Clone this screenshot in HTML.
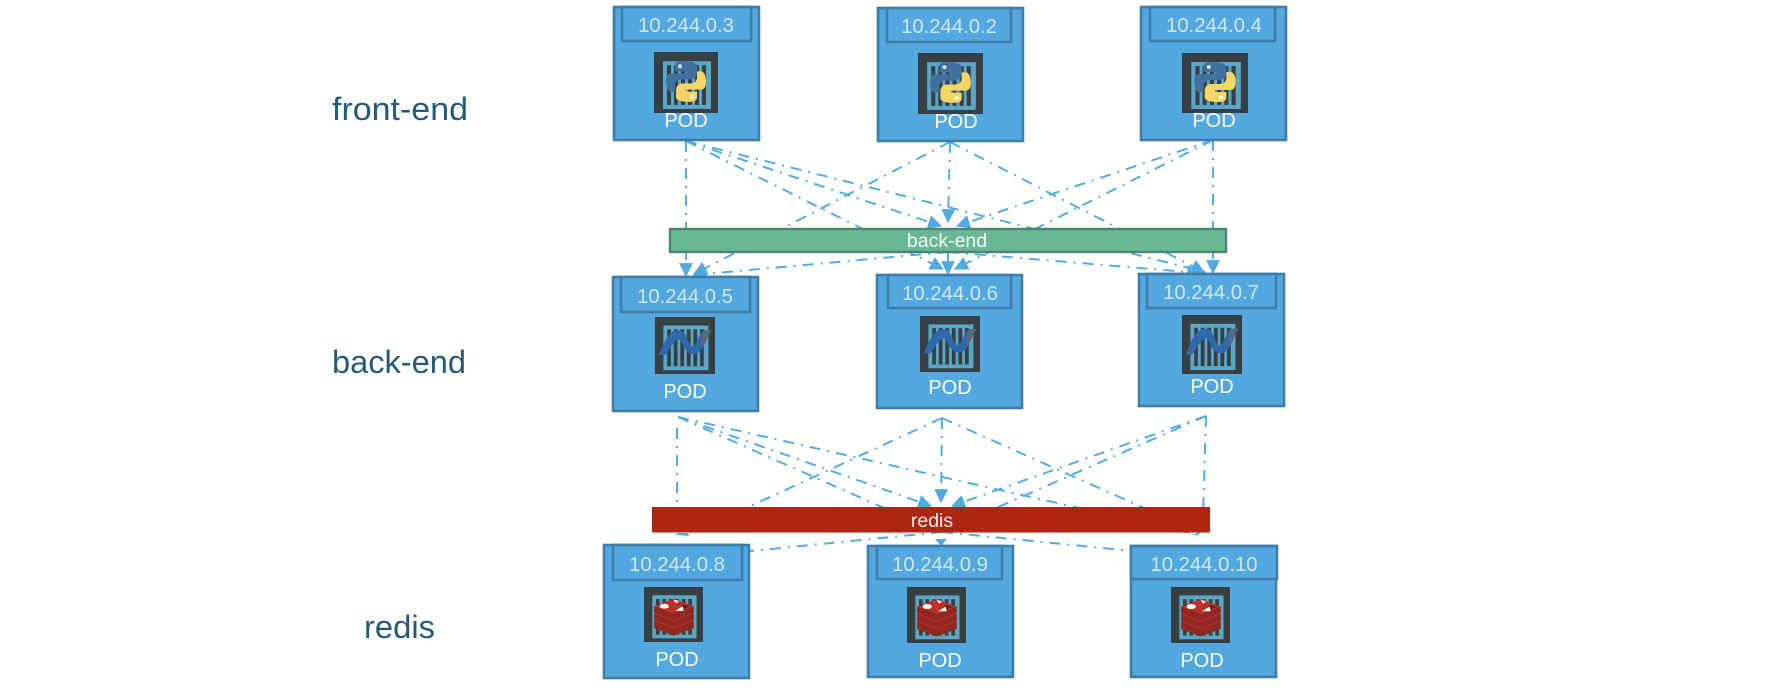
<!DOCTYPE html>
<html><head><meta charset="utf-8"><title>Pods</title>
<style>
html,body{margin:0;padding:0;background:#fff;width:1774px;height:694px;overflow:hidden}
svg{display:block}
text{font-family:"Liberation Sans",sans-serif}
.lbl{font-size:32px;fill:#255a7a}
.ip{font-size:20.3px;fill:#cfe7f6;text-anchor:middle}
.pod{font-size:20px;fill:#fff;text-anchor:middle}
.svc{font-size:19.5px;fill:#f4f9f6;text-anchor:middle}
.p{fill:#53a8e0;stroke:#3f7ea8;stroke-width:2.6}
.i{fill:#53a8e0;stroke:#3f7ea8;stroke-width:2.6}
.l{stroke:#55ace3;stroke-width:2;fill:none;stroke-dasharray:11 7 2 7}
</style></head><body>
<svg width="1774" height="694" viewBox="0 0 1774 694" xmlns="http://www.w3.org/2000/svg">
<defs>
<marker id="a" viewBox="0 0 12 12" refX="11" refY="6" markerWidth="14" markerHeight="14" markerUnits="userSpaceOnUse" orient="auto"><path d="M0 0L12 6L0 12Z" fill="#53a9e1"/></marker>
<g id="box">
<rect width="64" height="60" fill="#363f44"/>
<rect x="9" y="9" width="48" height="47" fill="#5aa6c4"/>
<g fill="#363f44"><rect x="13" y="13" width="4" height="39"/><rect x="20" y="13" width="4" height="39"/><rect x="27" y="13" width="4" height="39"/><rect x="34" y="13" width="4" height="39"/><rect x="41" y="13" width="4" height="39"/><rect x="48" y="13" width="4" height="39"/></g>
</g>
<symbol id="py" viewBox="0 0 64 60" preserveAspectRatio="none">
<use href="#box"/>
<path d="M29 9C22 9 21 11 21 14V19H32V21H17C13 21 12 25 12 29C12 35 14 39 17 39H21V33C21 29 24 27 27 27H36C39 27 43 24 43 21V14C43 11 38 9 29 9Z" fill="#41719f"/>
<path d="M35 49C42 49 43 47 43 44V39H32V37H47C51 37 52 33 52 29C52 23 50 19 47 19H43V25C43 29 40 31 37 31H28C25 31 22 34 22 37V44C22 47 26 49 35 49Z" fill="#f4d666"/>
<circle cx="26" cy="14" r="1.8" fill="#fff"/><circle cx="38" cy="44" r="1.8" fill="#fff"/>
</symbol>
<symbol id="net" viewBox="0 0 64 60" preserveAspectRatio="none">
<use href="#box"/>
<path d="M4 40C10 26 15 14 25 14C32 14 34 22 36 27C38 31 40 32 42 30C45 27 47 18 52 14L60 14C55 22 51 39 42 39C34 39 31 32 29 28C27 24 26 23 24 24C19 27 15 35 11 40Z" fill="#2f69ac"/>
<path d="M52 14L60 14C56 20 53 28 50 32C49 26 50 20 52 14Z" fill="#5b6a78"/>
</symbol>
<symbol id="rd" viewBox="0 0 64 60" preserveAspectRatio="none">
<use href="#box"/>
<path d="M11 37V45L32 53L54 45V37Z" fill="#8f2820"/>
<path d="M11 37L32 45L54 37L32 29Z" fill="#b8322a"/>
<path d="M11 29V36L32 44L54 36V29Z" fill="#8f2820"/>
<path d="M11 29L32 37L54 29L32 21Z" fill="#b8322a"/>
<path d="M11 21V28L32 36L54 28V21Z" fill="#8f2820"/>
<path d="M11 21L32 29L54 21L32 13Z" fill="#b8322a"/>
<ellipse cx="22" cy="21" rx="5" ry="2.6" fill="#fff"/><path d="M34 26L43 26L42 21Z" fill="#fff"/><path d="M32 14L38 15L35 18Z" fill="#fff"/><path d="M41 19L50 21L43 24Z" fill="#6d1e19"/>
</symbol>
</defs>

<text class="lbl" x="332" y="120" textLength="136" lengthAdjust="spacingAndGlyphs">front-end</text>
<text class="lbl" x="332" y="373" textLength="134" lengthAdjust="spacingAndGlyphs">back-end</text>
<text class="lbl" x="364" y="638" textLength="71" lengthAdjust="spacingAndGlyphs">redis</text>

<g>
<path class="l" d="M686 141V276" marker-end="url(#a)"/>
<path class="l" d="M686 141L941 226" marker-end="url(#a)"/>
<path class="l" d="M686 141L943 269" marker-end="url(#a)"/>
<path class="l" d="M686 141L1205 272" marker-end="url(#a)"/>
<path class="l" d="M950 142L948 222" marker-end="url(#a)"/>
<path class="l" d="M950 142L694 274" marker-end="url(#a)"/>
<path class="l" d="M950 142L1204 272" marker-end="url(#a)"/>
<path class="l" d="M1213 140V273" marker-end="url(#a)"/>
<path class="l" d="M1213 140L957 226" marker-end="url(#a)"/>
<path class="l" d="M1213 140L955 269" marker-end="url(#a)"/>
<path class="l" d="M948 252L694 275" marker-end="url(#a)"/>
<path class="l" d="M948 252V274" marker-end="url(#a)"/>
<path class="l" d="M948 252L1200 273" marker-end="url(#a)"/>

<path class="l" d="M677 428V515"/>
<path class="l" d="M678 417L931 506" marker-end="url(#a)"/>
<path class="l" d="M678 417L900 515"/>
<path class="l" d="M678 417L1198 535"/>
<path class="l" d="M942 418L941 502" marker-end="url(#a)"/>
<path class="l" d="M942 418L720 520"/>
<path class="l" d="M942 418L1180 524"/>
<path class="l" d="M1206 416L1203 515"/>
<path class="l" d="M1206 416L952 506" marker-end="url(#a)"/>
<path class="l" d="M1206 416L980 515"/>
<path class="l" d="M942 532L680 558"/>
<path class="l" d="M942 532L1203 558"/>
</g>
<path d="M935 539H947L941 546Z" fill="#53a9e1"/>
<path d="M676 533L688 533L689 536L677 535Z" fill="#53a9e1"/>
<path d="M1190 535L1200 532L1200 534Z" fill="#53a9e1"/>

<rect x="670" y="229" width="556" height="23" fill="#6ab795" stroke="#4f8570" stroke-width="2.4"/>
<text class="svc" x="947" y="247">back-end</text>
<rect x="652" y="507" width="558" height="25.500" fill="#ae2512"/>
<text class="svc" x="932" y="527" style="fill:#fbecea">redis</text>

<rect class="p" x="614" y="7" width="145" height="133"/>
<rect class="i" x="622" y="7" width="129" height="34"/>
<text class="ip" x="686" y="32">10.244.0.3</text>
<text class="pod" x="686" y="127">POD</text>
<use href="#py" x="654" y="52" width="64" height="61"/>

<rect class="p" x="878" y="8" width="145" height="133"/>
<rect class="i" x="887" y="8" width="124" height="34"/>
<text class="ip" x="949" y="33">10.244.0.2</text>
<text class="pod" x="956" y="128">POD</text>
<use href="#py" x="918" y="53" width="65" height="61"/>

<rect class="p" x="1141" y="7" width="145" height="133"/>
<rect class="i" x="1150" y="7" width="125" height="34"/>
<text class="ip" x="1214" y="32">10.244.0.4</text>
<text class="pod" x="1214" y="127">POD</text>
<use href="#py" x="1182" y="53" width="66" height="60"/>

<rect class="p" x="613" y="277" width="145" height="134"/>
<rect class="i" x="621" y="277" width="129" height="35"/>
<text class="ip" x="685" y="303">10.244.0.5</text>
<use href="#net" x="655" y="317" width="60" height="57"/>
<text class="pod" x="685" y="398">POD</text>

<rect class="p" x="877" y="275" width="145" height="133"/>
<rect class="i" x="888" y="275" width="123" height="33"/>
<text class="ip" x="950" y="300">10.244.0.6</text>
<use href="#net" x="920" y="316" width="60" height="56"/>
<text class="pod" x="950" y="394">POD</text>

<rect class="p" x="1139" y="274" width="145" height="132"/>
<rect class="i" x="1147" y="274" width="129" height="34"/>
<text class="ip" x="1211" y="299">10.244.0.7</text>
<use href="#net" x="1182" y="315" width="60" height="59"/>
<text class="pod" x="1212" y="393">POD</text>

<rect class="p" x="604" y="545" width="145" height="133"/>
<rect class="i" x="613" y="545" width="129" height="35"/>
<text class="ip" x="677" y="571">10.244.0.8</text>
<use href="#rd" x="644" y="587" width="59" height="55"/>
<text class="pod" x="677" y="666">POD</text>

<rect class="p" x="868" y="546" width="145" height="131"/>
<rect class="i" x="877" y="546" width="125" height="33"/>
<text class="ip" x="940" y="571">10.244.0.9</text>
<use href="#rd" x="907" y="587" width="59" height="56"/>
<text class="pod" x="940" y="667">POD</text>

<rect class="p" x="1131" y="546" width="145" height="131"/>
<rect class="i" x="1131" y="546" width="146" height="33"/>
<text class="ip" x="1204" y="571">10.244.0.10</text>
<use href="#rd" x="1171" y="587" width="59" height="56"/>
<text class="pod" x="1202" y="667">POD</text>
</svg>
</body></html>
